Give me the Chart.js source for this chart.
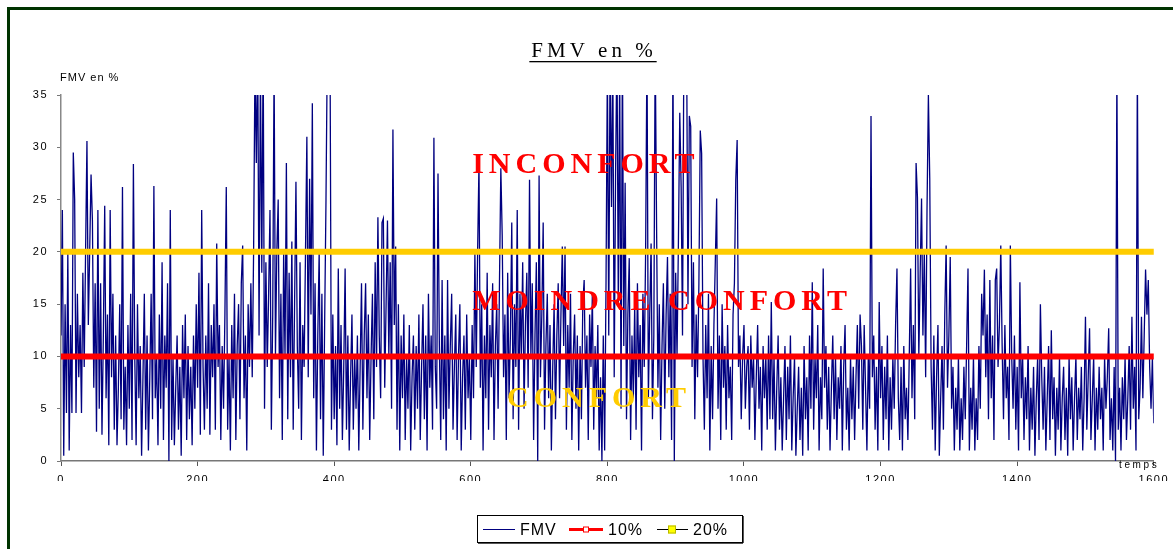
<!DOCTYPE html>
<html>
<head>
<meta charset="utf-8">
<script src="https://cdn.jsdelivr.net/npm/chart.js@4.4.1/dist/chart.umd.min.js"></script>
<style>
  html, body { margin: 0; padding: 0; background: #ffffff; }
  #wrap { width: 1173px; height: 549px; position: relative; }
</style>
</head>
<body>
<div id="wrap"><canvas id="c" width="1173" height="549"></canvas></div>
<script>
// ---- data ----
const chartTitle = 'FMV en %';
const yAxisTitle = 'FMV en %';
const xAxisTitle = 'temps';
const timeStep = 2;            // one sample every 2 time units
const timeMax = 1600;
const xTicksStep = 200;
const yTicksStep = 5;
const yMax = 35;

const fmv = [
 12,24,0.5,15,4.6,20,1,13,4.6,29.5,25,4.6,16,8,13,4.6,18,9,20,30.6,
 13,20,27.4,23,7,17,2.8,24,5,17,2.5,12,24.4,6,14,1.5,24,8,16,3,
 12,1.5,7,15,4,26.2,3,9,1.5,13,5,16,2,28.4,10,1.5,15,6,11,0.5,
 8,16,3,12,1,8,16,4,26.3,6,10,1.5,14,5,19,2,12,7,17,0,
 24,2,10,1.5,7,12,3,9,0.5,13,6,14,2,11,4,9,1.5,12,5,15,
 7,18,2.5,24,9,3,12,5,17,2.5,13,8,15,3,20.8,9,13,2,11,5,
 14,26.2,3,10,1,13,6,16,2,11,15,4,17,20.6,6,12,1,15,9,17,
 8,20,38,28.5,40,12,38,18,40,5,19,9,16,24,3,14,38,10,20,25,
 6,16,2,20,10,28.5,4,18,8,21,3,15,26.7,11,5,19,2,13,9,20,
 31,8,27,14,34.2,6,17,1,12,20,4,16,0.5,13,25,40,40,38,3,14,
 4,11,1.5,18.4,5,13,2,9,18.4,3,12,1,8,14,3,10,5,12,1,9,
 17,3,12,17,6,14,2,10,16,4,19,9,23.3,12,6,22.8,23.2,7,15,23,
 10,19,5,31.7,13,20.5,3,15,1,12,6,14,2,10,5,13,1,8,12,3,
 11,5,14,2,9,15,4,12,1,16,7,12,3,30.9,9,5,27.5,11,2,17.3,
 4,12,1,17.3,5,11,16,3,9,14,2,10,15,1,8,12,3,14,6,10,
 2,13,6,20,9,20,28.5,7,15,1,12,6,18,3,13,8,17,2,11,15,
 5,17,28,21.6,8,14,2,18,6,12,22.8,4,15,9,24,3,16,10,19,5,
 13,18,7,26.9,10,17,2,12,19,0,27.3,8,14,22.8,3,11,16,6,13,1,
 9,15,4,12,17,6,14,20.5,11,20.5,3,13,7,16,2,10,14,5,12,1,
 11,4,15,17.3,7,12,2,14,9,16,3,11,6,13,1,8,0,12,1,17,
 38,12,40,24.3,38,8,27.5,40,15,38,5,40,11,26.6,4,14,19.4,2,12,6,
 15,3,17,8,13,1,16,9,20,40,6,14,20.8,4,12,40,22.7,7,15,2,
 11,17,5,14,19.5,8,16,2,40,0,18,10,21,33.3,26.2,12,40,38,40,15,
 33,32,9,19,4,14,8,17,31.6,29.4,10,3,13,6,16,1,11,4,13,19,
 25.1,5,12,2,15,7,11,3,13,6,9,2,14,17,26.9,30.7,9,12,4,10,
 13,5,9,11,3,12,7,10,2,8,13,5,9,1,11,6,10,3,12,4,
 15.2,4,10,1,7,12,3,8,1,6,11,2,9,4,12,1,6,10,0.5,5,
 9,2,7,0.5,11,4,8,1,12,5,17.1,3,10,6,13,1,8,4,18.4,7,
 11,3,9,1,7,12,4,10,2,8,5,11,1,9,13,3,7,1,10,4,
 9,2,8,13,5,14,11,3,13,7,1,10,5,33,8,12,3,9,1,15.2,
 6,11,2,9,4,12,1,8,3,10,5,13,18.4,6,2,9,1,11,4,7,
 2,10,18.4,6,13,4,28.5,25.2,10,18,25.1,12,20,8,24,35,27,9,3,12,
 1,8,13,0.5,6,11,3,14,20.6,7,12,19.5,5,9,1,7,3,10,1,6,
 2,9,4,11,18.4,1,7,3,10,1,6,2,11,5,16,12,18.3,8,14,4,
 17.3,6,12,2,17.3,18.4,9,13,20.6,11,4,13,6,9,2,20.6,10,5,12,3,
 9,1,17.1,6,10,2,8,4,11,1,7,3,9,0.5,6,10,2,15,8,3,
 9,1,6,11,2,12.5,4,8,0.5,7,3,10,1,6,9,2,7,0.5,10,4,
 8,1,6,10,2,7,4,9,1,6,13.8,3,8,12.7,2,6,10,1,7,3,
 9,4,7,1,10,5,8,12.7,2,6,1,9,0,38,3,7,1,8,4,10,
 2,6,11,3,13.8,5,9,1,38,4,7,13.8,6,12,18.3,14,17.3,9,5,10,
 3.6
];

const thresholdValues = [10, 20];
const thresholdLabels = ['10%', '20%'];
const seriesLabel = 'FMV';

const zoneLabels = ['INCONFORT', 'MOINDRE CONFORT', 'CONFORT'];

// ---- build datasets ----
const fmvPoints = fmv.map((v, i) => ({ x: i * timeStep, y: v }));
const thrPoints = thresholdValues.map(v => [{ x: 0, y: v }, { x: timeMax, y: v }]);

// zone label placement (data coordinates) and style
const zoneStyle = [
  { x: 602, y: 27.5, color: '#FF0000' },
  { x: 602, y: 14.4, color: '#FF0000' },
  { x: 653, y: 5.2,  color: '#FFCC00' }
];

const decorPlugin = {
  id: 'decor',
  beforeDraw(chart) {
    const ctx = chart.ctx;
    ctx.save();
    ctx.fillStyle = '#ffffff';
    ctx.fillRect(0, 0, chart.width, chart.height);
    // dark green frame (top & left)
    ctx.fillStyle = '#003300';
    ctx.fillRect(7, 7, chart.width - 7, 3);
    ctx.fillRect(7, 7, 3, chart.height - 7);
    ctx.restore();
    ctx.letterSpacing = '1.5px';
  },
  afterDatasetsDraw(chart) {
    const ctx = chart.ctx;
    const xs = chart.scales.x, ys = chart.scales.y;
    ctx.save();
    ctx.font = 'bold 30px "Liberation Serif", "Times New Roman", serif';
    ctx.letterSpacing = '5px';
    ctx.textAlign = 'left';
    ctx.textBaseline = 'alphabetic';
    zoneLabels.forEach((t, i) => {
      const s = zoneStyle[i];
      ctx.fillStyle = s.color;
      ctx.fillText(t, xs.getPixelForValue(s.x), ys.getPixelForValue(s.y));
    });
    ctx.restore();
  },
  afterDraw(chart) {
    const ctx = chart.ctx;
    ctx.save();
    // title
    ctx.fillStyle = '#000';
    ctx.font = '21px "Liberation Serif", "Times New Roman", serif';
    ctx.letterSpacing = '4px';
    ctx.textAlign = 'left';
    ctx.textBaseline = 'alphabetic';
    const tw = ctx.measureText(chartTitle).width - 4;
    const tx = 592 - tw / 2;
    ctx.fillText(chartTitle, tx, 57);
    ctx.fillRect(tx - 2, 61, tw + 6, 1.3);

    // axis titles
    ctx.font = '11px "Liberation Sans", Arial, sans-serif';
    ctx.letterSpacing = '1px';
    ctx.fillText(yAxisTitle, 60, 81);
    ctx.font = '10px "Liberation Sans", Arial, sans-serif';
    ctx.letterSpacing = '2.6px';
    ctx.fillText(xAxisTitle, 1119, 468);

    // legend
    const lx = 477, ly = 515, lw = 265, lh = 27;
    ctx.strokeStyle = '#000';
    ctx.lineWidth = 1;
    ctx.strokeRect(lx + 0.5, ly + 0.5, lw, lh);
    ctx.fillStyle = '#555';
    ctx.fillRect(lx + 1, ly + lh + 1, lw, 1);
    ctx.fillRect(lx + lw + 1, ly + 1, 1, lh);
    const cy = 529.5;
    ctx.font = '16px "Liberation Sans", Arial, sans-serif';
    ctx.letterSpacing = '1px';
    ctx.textBaseline = 'middle';
    const ds = chart.data.datasets;
    // FMV
    ctx.strokeStyle = '#000080'; ctx.lineWidth = 1;
    ctx.beginPath(); ctx.moveTo(483, cy); ctx.lineTo(515, cy); ctx.stroke();
    ctx.fillStyle = '#000';
    ctx.fillText(ds[0].label, 520, cy + 1);
    // 10%
    ctx.strokeStyle = '#FF0000'; ctx.lineWidth = 3;
    ctx.beginPath(); ctx.moveTo(569, cy); ctx.lineTo(603, cy); ctx.stroke();
    ctx.fillStyle = '#fff'; ctx.fillRect(583, cy - 3, 6, 6);
    ctx.lineWidth = 1; ctx.strokeRect(583.5, cy - 2.5, 5, 5);
    ctx.fillStyle = '#000';
    ctx.fillText(ds[1].label, 608, cy + 1);
    // 20%
    ctx.strokeStyle = '#000'; ctx.lineWidth = 1;
    ctx.beginPath(); ctx.moveTo(657, cy); ctx.lineTo(688, cy); ctx.stroke();
    ctx.fillStyle = '#FFFF00'; ctx.fillRect(668, cy - 4, 8, 8);
    ctx.strokeStyle = '#B8B800'; ctx.strokeRect(668.5, cy - 3.5, 7, 7);
    ctx.fillStyle = '#000';
    ctx.fillText(ds[2].label, 693, cy + 1);
    ctx.restore();
  }
};

const tickFont = { family: '"Liberation Sans", Arial, sans-serif', size: 11 };

new Chart(document.getElementById('c'), {
  type: 'line',
  data: {
    datasets: [
      { label: seriesLabel, data: fmvPoints, borderColor: '#000080', borderWidth: 1.3,
        pointRadius: 0, tension: 0, order: 2 },
      { label: thresholdLabels[0], data: thrPoints[0], borderColor: '#FF0000', borderWidth: 6,
        pointRadius: 0, order: 0, clip: false },
      { label: thresholdLabels[1], data: thrPoints[1], borderColor: '#FFCC00', borderWidth: 6,
        pointRadius: 0, order: 1, clip: false }
    ]
  },
  options: {
    responsive: false,
    animation: false,
    events: [],
    layout: { padding: { left: 11, top: 95, right: 19, bottom: 68 } },
    plugins: { legend: { display: false }, tooltip: { enabled: false }, title: { display: false } },
    scales: {
      x: {
        type: 'linear', min: 0, max: timeMax,
        ticks: { stepSize: xTicksStep, font: tickFont, color: '#000', padding: 7, maxRotation: 0, autoSkip: false,
                 callback: v => String(v) },
        grid: { drawOnChartArea: false, drawTicks: true, tickLength: 5, tickColor: '#555', color: '#555' },
        border: { color: '#777', width: 1.5 },
        afterFit(s) { s.height = 20; }
      },
      y: {
        min: 0, max: yMax,
        ticks: { stepSize: yTicksStep, font: tickFont, color: '#000', padding: 9, callback: v => String(v) },
        grid: { drawOnChartArea: false, drawTicks: true, tickLength: 4, tickColor: '#777', color: '#777' },
        border: { color: '#888', width: 1.5 },
        afterFit(s) { s.width = 50; }
      }
    }
  },
  plugins: [decorPlugin]
});
</script>
</body>
</html>
